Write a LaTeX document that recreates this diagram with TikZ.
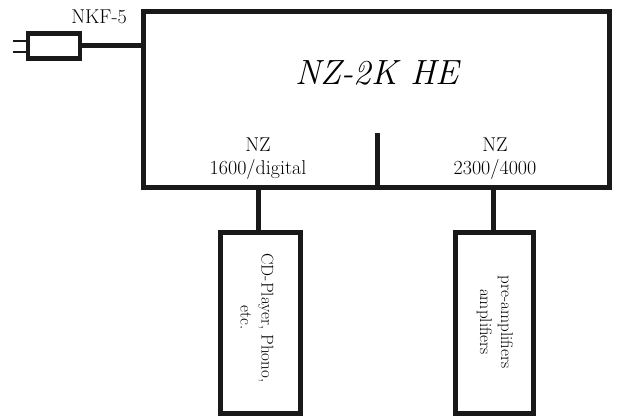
\documentclass[tikz,border=0pt]{standalone}
\usepackage{fontspec}
\begin{document}
\begin{tikzpicture}[x=1pt,y=-1pt,
  thick box/.style={draw=black!90, line width=5pt, rectangle, inner sep=0pt},
  wire/.style={draw=black!90, line width=5pt},
  prong/.style={draw=black!90, line width=2.5pt},
  lbl/.style={font=\fontsize{20}{23}\selectfont, align=center, inner sep=0pt, text=black},
  vlbl/.style={font=\fontsize{17}{21}\selectfont, align=center, inner sep=0pt, text=black, rotate=-90}]
\useasboundingbox (0,0) rectangle (617,419);
\node[thick box, minimum width=466pt, minimum height=176pt] (main) at (376,100) {};
\node[font=\fontsize{35}{38}\selectfont\itshape, text=black] (title) at (377,73) {NZ-2K HE};
\node[lbl] (nz1) at (258,159) {NZ\\1600/digital};
\node[lbl] (nz2) at (495,159) {NZ\\2300/4000};
\coordinate (divtop) at (377,133);
\draw[wire] (divtop) -- (divtop |- main.south);
% plug
\node[thick box, line width=4.5pt, minimum width=52pt, minimum height=25pt] (plug) at (54,46) {};
\node[lbl] (nkf) at (99,17) {NKF-5};
\coordinate (p1) at (13,41);
\coordinate (p2) at (13,52);
\draw[prong] (p1) -- (p1 -| plug.west);
\draw[prong] (p2) -- (p2 -| plug.west);
\draw[wire] (plug.east) -- (plug.east -| main.west);
% devices
\node[thick box, minimum width=80pt, minimum height=181pt] (cd) at (260,323) {};
\node[vlbl] (cdtxt) at (257,318) {CD-Player, Phono,\\etc.};
\node[thick box, minimum width=78pt, minimum height=181pt] (amp) at (494,323) {};
\node[vlbl] (amptxt) at (495,322) {pre-amplifiers\\amplifiers};
\draw[wire] (cd.north -| 258,0) -- (258,0 |- main.south);
\draw[wire] (amp.north -| 493,0) -- (493,0 |- main.south);
\end{tikzpicture}
\end{document}
